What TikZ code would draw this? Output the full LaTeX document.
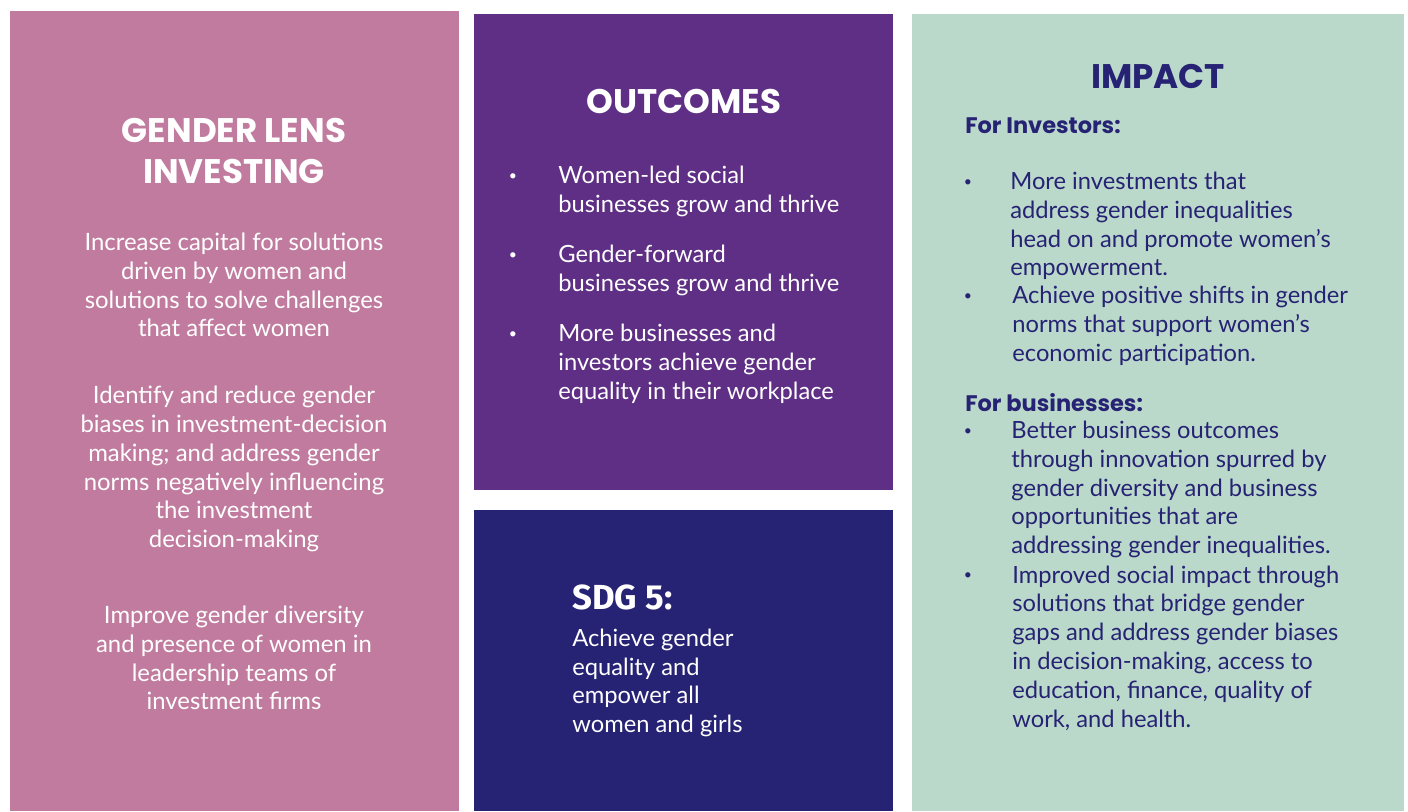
\documentclass[tikz,border=0pt]{standalone}
\usepackage{fontspec}
\setmainfont{Lato}
\newfontfamily\headfont{Poppins}
\newfontfamily\sdgfont{Fira Sans}
\usetikzlibrary{positioning}
\definecolor{lenspink}{HTML}{C17B9E}
\definecolor{outpurple}{HTML}{5E2F84}
\definecolor{sdgnavy}{HTML}{262274}
\definecolor{impactmint}{HTML}{BBD9CA}
\tikzset{
  title/.style={
    align=center,
    inner sep=0pt,
    text=white,
    font=\headfont\bfseries\fontsize{19.4}{23.5}\selectfont
  },
  body/.style={
    align=center,
    inner sep=0pt,
    text=white,
    font=\fontsize{13.6}{16.4}\selectfont
  },
  item/.style={
    anchor=west,
    align=left,
    inner sep=0pt,
    font=\fontsize{13.5}{16.4}\selectfont
  },
  dot/.style={
    inner sep=0pt,
    font=\fontsize{8}{8}\selectfont
  },
  subhead/.style={
    anchor=west,
    inner sep=0pt,
    text=sdgnavy,
    font=\headfont\bfseries\fontsize{12.8}{14}\selectfont
  }
}

\begin{document}
\begin{tikzpicture}[x=0.02cm, y=-0.02cm]
  \useasboundingbox (0,0) rectangle (1408,811);
  % panels
  \fill [lenspink] (10,11) rectangle (459,811);
  \fill [outpurple] (474,14) rectangle (893,490);
  \fill [sdgnavy] (474,510) rectangle (893,811);
  \fill [impactmint] (912,14) rectangle (1404,811);

  % gender lens investing
  \node (lens) [title] at (234,151) {GENDER LENS\\INVESTING};
  \node (capital) [body] at (234,285) {Increase capital for solutions\\
    driven by women and\\ solutions to solve challenges\\ that affect women};
  \node (biases) [body] at (234,469) {Identify and reduce gender\\
    biases in investment-decision\\ making; and address gender\\
    norms negatively influencing\\ the investment\\ decision-making};
  \node (diversity) [body] at (234,658) {Improve gender diversity\\
    and presence of women in\\ leadership teams of\\ investment firms};

  % outcomes
  \node (outcomes) [title] at (684,101) {OUTCOMES};
  \node (womenled) [item, text=white] at (558,191.5) {Women-led social\\
    businesses grow and thrive};
  \node (forward) [item, text=white] at (558,270.5) {Gender-forward\\
    businesses grow and thrive};
  \node (equality) [item, text=white] at (558,363.5) {More businesses and\\
    investors achieve gender\\ equality in their workplace};
  \node (dot1) [dot, text=white] at (513,177) {•};
  \node (dot2) [dot, text=white] at (513,256) {•};
  \node (dot3) [dot, text=white] at (513,335) {•};

  % sdg 5
  \node (sdg) [anchor=west, inner sep=0pt, text=white,
    font=\sdgfont\bfseries\fontsize{19.8}{23}\selectfont] at (572,597) {SDG 5:};
  \node (goal) [item, text=white] at (572,683) {Achieve gender\\
    equality and\\ empower all\\ women and girls};

  % impact
  \node (impact) [title, text=sdgnavy] at (1158,76) {IMPACT};
  \node (investors) [subhead] at (965,126) {For Investors:};
  \node (moreinv) [item, text=sdgnavy] at (1010,226) {More investments that\\
    address gender inequalities\\ head on and promote women’s\\ empowerment.};
  \node (shifts) [item, text=sdgnavy] at (1012,326) {Achieve positive shifts in gender\\
    norms that support women’s\\ economic participation.};
  \node (business) [subhead] at (965,403) {For businesses:};
  \node (better) [item, text=sdgnavy] at (1011,489.5) {Better business outcomes\\
    through innovation spurred by\\ gender diversity and business\\
    opportunities that are\\ addressing gender inequalities.};
  \node (social) [item, text=sdgnavy] at (1012,648) {Improved social impact through\\
    solutions that bridge gender\\ gaps and address gender biases\\
    in decision-making, access to\\ education, finance, quality of\\
    work, and health.};
  \node (dot4) [dot, text=sdgnavy] at (968,183) {•};
  \node (dot5) [dot, text=sdgnavy] at (968,297) {•};
  \node (dot6) [dot, text=sdgnavy] at (968,432) {•};
  \node (dot7) [dot, text=sdgnavy] at (968,576) {•};
\end{tikzpicture}
\end{document}
